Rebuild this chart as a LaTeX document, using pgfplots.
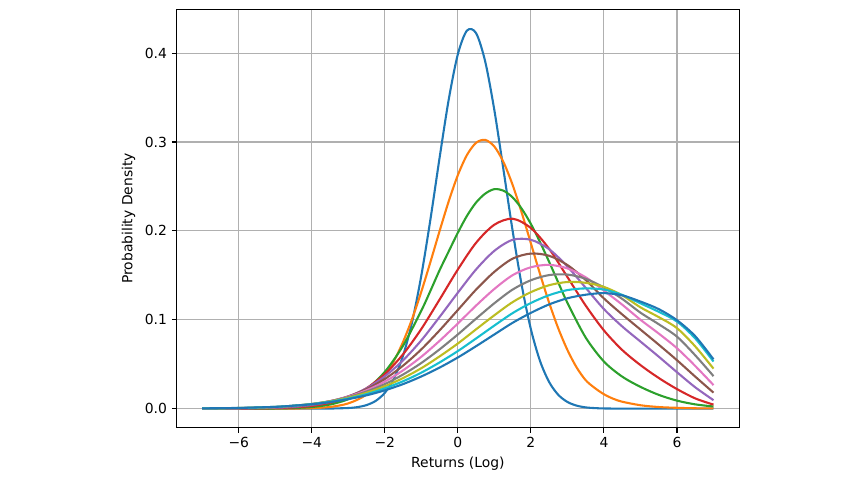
\documentclass[border=0pt]{standalone}
\usepackage{pgfplots}
\pgfplotsset{compat=1.18}
\usepackage{fontspec}
\setmainfont{DejaVu Sans}
\definecolor{c0}{HTML}{1F77B4}
\definecolor{c1}{HTML}{FF7F0E}
\definecolor{c2}{HTML}{2CA02C}
\definecolor{c3}{HTML}{D62728}
\definecolor{c4}{HTML}{9467BD}
\definecolor{c5}{HTML}{8C564B}
\definecolor{c6}{HTML}{E377C2}
\definecolor{c7}{HTML}{7F7F7F}
\definecolor{c8}{HTML}{BCBD22}
\definecolor{c9}{HTML}{17BECF}
\definecolor{gridc}{HTML}{B0B0B0}
\begin{document}
\begin{tikzpicture}
\begin{axis}[
  name=ax,
  scale only axis, width=404.9pt, height=301.2pt,
  xmin=-7.7, xmax=7.7, ymin=-0.0214, ymax=0.4494,
  xtick={-6,-4,-2,0,2,4,6}, xticklabels={−6,−4,−2,0,2,4,6},
  ytick={0,0.1,0.2,0.3,0.4}, yticklabels={0.0,0.1,0.2,0.3,0.4},
  grid=major, grid style={color=gridc, line width=0.8pt},
  axis line style={line width=0.8pt},
  tick align=outside, major tick length=3.5pt,
  tick style={line width=0.8pt, black},
  tick pos=left,
  xlabel={Returns (Log)}, ylabel={Probability Density},
  every tick label/.append style={font=\fontsize{10}{12}\selectfont},
  label style={font=\fontsize{10}{12}\selectfont},
  every axis plot/.append style={line width=1.5pt, mark=none, smooth},
  clip=false,
]
\addplot[c0] coordinates {(-7,0) (-6,0) (-5,0) (-4.5,0) (-4,0.0000) (-3.5,0.0001) (-3,0.0007) (-2.75,0.0017) (-2.5,0.0040) (-2.25,0.0087) (-2,0.0178) (-1.75,0.0338) (-1.5,0.0597) (-1.25,0.0980) (-1,0.1499) (-0.75,0.2133) (-0.5,0.2824) (-0.25,0.3479) (0,0.3989) (0.25,0.4255) (0.5,0.4225) (0.75,0.3904) (1,0.3357) (1.25,0.2685) (1.5,0.2000) (1.75,0.1385) (2,0.0893) (2.25,0.0536) (2.5,0.0299) (2.75,0.0155) (3,0.0075) (3.25,0.0034) (3.5,0.0014) (3.75,0.0006) (4,0.0002) (4.5,0) (5,0) (6,0) (7,0)};
\addplot[c1] coordinates {(-7,0) (-6,0) (-5,0.00003) (-4.5,0.0001) (-4,0.0005) (-3.5,0.0019) (-3,0.0059) (-2.5,0.0159) (-2,0.0371) (-1.75,0.0537) (-1.5,0.0752) (-1.25,0.1013) (-1,0.1317) (-0.75,0.1652) (-0.5,0.1999) (-0.25,0.2334) (0,0.2628) (0.25,0.2855) (0.5,0.2992) (0.75,0.3024) (1,0.2949) (1.25,0.2774) (1.5,0.2517) (1.75,0.2203) (2,0.1860) (2.25,0.1515) (2.5,0.1191) (2.75,0.0903) (3,0.0660) (3.25,0.0465) (3.5,0.0320) (3.75,0.0232) (4,0.0162) (4.25,0.0112) (4.5,0.0078) (5,0.0038) (5.5,0.0018) (6,0.0009) (6.5,0.0004) (7,0.0002)};
\addplot[c2] coordinates {(-7,0) (-6,0.00002) (-5,0.0002) (-4.5,0.0007) (-4,0.0018) (-3.5,0.0046) (-3,0.0106) (-2.5,0.0220) (-2,0.0414) (-1.5,0.0709) (-1,0.1103) (-0.75,0.1327) (-0.5,0.1558) (-0.25,0.1770) (0,0.1980) (0.25,0.2170) (0.5,0.2320) (0.75,0.2420) (1,0.2470) (1.25,0.2452) (1.5,0.2377) (1.75,0.2249) (2,0.2078) (2.25,0.1874) (2.5,0.1651) (2.75,0.1419) (3,0.1191) (3.5,0.0800) (4,0.0530) (4.5,0.0360) (5,0.0245) (5.5,0.0155) (6,0.0090) (6.5,0.0048) (7,0.0024)};
\addplot[c3] coordinates {(-7,0.00001) (-6,0.0001) (-5,0.0006) (-4.5,0.0014) (-4,0.0031) (-3.5,0.0066) (-3,0.0127) (-2.5,0.0230) (-2,0.0389) (-1.5,0.0612) (-1,0.0897) (-0.5,0.1228) (0,0.1566) (0.5,0.1867) (1,0.2070) (1.5,0.2137) (2,0.2032) (2.5,0.1798) (3,0.1481) (3.5,0.1160) (4,0.0880) (4.5,0.0660) (5,0.0490) (5.5,0.0345) (6,0.0220) (6.5,0.0115) (7,0.0045)};
\addplot[c4] coordinates {(-7,0.00003) (-6,0.0002) (-5,0.0010) (-4.5,0.0020) (-4,0.0041) (-3.5,0.0077) (-3,0.0137) (-2.5,0.0229) (-2,0.0364) (-1.5,0.0544) (-1,0.0769) (-0.5,0.1032) (0,0.1305) (0.5,0.1567) (1,0.1776) (1.5,0.1900) (2,0.1900) (2.5,0.1794) (3,0.1599) (3.5,0.1360) (4,0.1120) (4.5,0.0925) (5,0.0755) (5.5,0.0585) (6,0.0410) (6.5,0.0240) (7,0.0095)};
\addplot[c5] coordinates {(-7,0.0001) (-6,0.0003) (-5,0.0013) (-4.5,0.0026) (-4,0.0047) (-3.5,0.0083) (-3,0.0138) (-2.5,0.0220) (-2,0.0334) (-1.5,0.0484) (-1,0.0667) (-0.5,0.0881) (0,0.1110) (0.5,0.1340) (1,0.1540) (1.5,0.1688) (2,0.1745) (2.5,0.1720) (3,0.1616) (3.5,0.1448) (4,0.1240) (4.5,0.1060) (5,0.0890) (5.5,0.0720) (6,0.0545) (6.5,0.0360) (7,0.0180)};
\addplot[c6] coordinates {(-7,0.0001) (-6,0.0005) (-5,0.0016) (-4.5,0.0030) (-4,0.0051) (-3.5,0.0084) (-3,0.0135) (-2.5,0.0207) (-2,0.0304) (-1.5,0.0431) (-1,0.0584) (-0.5,0.0763) (0,0.0958) (0.5,0.1160) (1,0.1347) (1.5,0.1502) (2,0.1591) (2.5,0.1618) (3,0.1578) (3.5,0.1478) (4,0.1328) (4.5,0.1170) (5,0.1000) (5.5,0.0845) (6,0.0680) (6.5,0.0480) (7,0.0265)};
\addplot[c7] coordinates {(-7,0.0002) (-6,0.0006) (-5,0.0018) (-4.5,0.0032) (-4,0.0052) (-3.5,0.0084) (-3,0.0130) (-2.5,0.0192) (-2,0.0276) (-1.5,0.0384) (-1,0.0514) (-0.5,0.0667) (0,0.0835) (0.5,0.1013) (1,0.1186) (1.5,0.1340) (2,0.1445) (2.5,0.1503) (3,0.1509) (3.5,0.1461) (4,0.1364) (4.5,0.1235) (5,0.1080) (5.5,0.0950) (6,0.0810) (6.5,0.0600) (7,0.0366)};
\addplot[c8] coordinates {(-7,0.0002) (-6,0.0007) (-5,0.0019) (-4.5,0.0033) (-4,0.0052) (-3.5,0.0081) (-3,0.0122) (-2.5,0.0178) (-2,0.0252) (-1.5,0.0344) (-1,0.0455) (-0.5,0.0588) (0,0.0733) (0.5,0.0893) (1,0.1051) (1.5,0.1199) (2,0.1311) (2.5,0.1389) (3,0.1425) (3.5,0.1416) (4,0.1370) (4.5,0.1275) (5,0.1140) (5.5,0.1030) (6,0.0906) (6.5,0.0700) (7,0.0450)};
\addplot[c9] coordinates {(-7,0.0002) (-6,0.0007) (-5,0.0020) (-4.5,0.0033) (-4,0.0051) (-3.5,0.0078) (-3,0.0114) (-2.5,0.0163) (-2,0.0228) (-1.5,0.0308) (-1,0.0405) (-0.5,0.0520) (0,0.0648) (0.5,0.0790) (1,0.0935) (1.5,0.1075) (2,0.1189) (2.5,0.1277) (3,0.1334) (3.5,0.1353) (4,0.1340) (4.5,0.1280) (5,0.1185) (5.5,0.1090) (6,0.0980) (6.5,0.0790) (7,0.0530)};
\addplot[c0] coordinates {(-7,0.0003) (-6,0.0008) (-5,0.0020) (-4.5,0.0033) (-4,0.0049) (-3.5,0.0073) (-3,0.0107) (-2.5,0.0150) (-2,0.0206) (-1.5,0.0276) (-1,0.0362) (-0.5,0.0462) (0,0.0576) (0.5,0.0703) (1,0.0835) (1.5,0.0966) (2,0.1078) (2.5,0.1173) (3,0.1242) (3.5,0.1282) (4,0.1300) (4.5,0.1275) (5,0.1205) (5.5,0.1120) (6,0.0995) (6.5,0.0815) (7,0.0555)};
\end{axis}
\path[use as bounding box] ([xshift=-127.2pt,yshift=-39.1pt]ax.south west) rectangle ([xshift=489.1pt,yshift=307.9pt]ax.south west);
\end{tikzpicture}
\end{document}
